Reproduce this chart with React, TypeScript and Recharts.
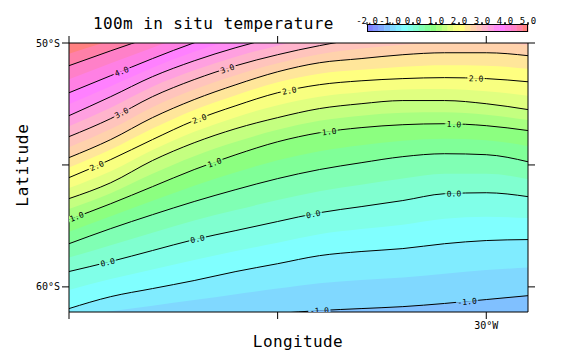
import React from 'react';
import { ComposedChart, Area, Line, Scatter, XAxis, YAxis, Customized } from 'recharts';

// ---------- data ----------
const longitudes = [-50, -48, -46, -44, -42, -40, -38, -36, -34, -32, -30, -28];

// latitude (deg, negative = south) of each isotherm at the longitudes above
const lat_m125 = [-62.8, -62.6, -62.4, -62.2, -62.0, -61.9, -61.8, -61.7, -61.6, -61.5, -61.4, -61.3];
const lat_m100 = [-61.71, -61.59, -61.46, -61.34, -61.22, -61.09, -60.97, -60.89, -60.81, -60.68, -60.52, -60.36];
const lat_m075 = [-61.30, -61.00, -60.77, -60.54, -60.30, -60.07, -59.85, -59.72, -59.62, -59.46, -59.31, -59.21];
const lat_m050 = [-60.89, -60.40, -60.07, -59.74, -59.37, -59.05, -58.72, -58.55, -58.43, -58.23, -58.10, -58.06];
const lat_m025 = [-60.13, -59.68, -59.29, -58.90, -58.53, -58.19, -57.84, -57.63, -57.45, -57.21, -57.12, -57.18];
const lat_000 = [-59.37, -58.96, -58.51, -58.06, -57.69, -57.32, -56.96, -56.71, -56.46, -56.18, -56.14, -56.30];
const lat_025 = [-58.80, -58.29, -57.78, -57.28, -56.85, -56.44, -56.08, -55.81, -55.56, -55.36, -55.36, -55.59];
const lat_050 = [-58.23, -57.61, -57.04, -56.50, -56.01, -55.56, -55.19, -54.91, -54.66, -54.54, -54.58, -54.87];
const lat_075 = [-57.74, -57.10, -56.47, -55.85, -55.30, -54.81, -54.44, -54.19, -54.01, -53.93, -53.99, -54.23];
const lat_100 = [-57.24, -56.59, -55.89, -55.19, -54.58, -54.05, -53.68, -53.47, -53.35, -53.31, -53.39, -53.59];
const lat_125 = [-56.81, -56.16, -55.36, -54.64, -54.05, -53.56, -53.19, -52.98, -52.86, -52.84, -52.94, -53.16];
const lat_150 = [-56.38, -55.73, -54.82, -54.09, -53.51, -53.06, -52.69, -52.49, -52.36, -52.36, -52.49, -52.73];
const lat_175 = [-55.95, -55.26, -54.39, -53.64, -53.04, -52.55, -52.20, -52.02, -51.91, -51.89, -51.98, -52.16];
const lat_200 = [-55.52, -54.78, -53.96, -53.18, -52.57, -52.04, -51.71, -51.55, -51.46, -51.42, -51.46, -51.59];
const lat_225 = [-55.11, -54.37, -53.51, -52.75, -52.14, -51.61, -51.26, -51.10, -50.97, -50.91, -50.93, -51.06];
const lat_250 = [-54.70, -53.96, -53.06, -52.32, -51.71, -51.18, -50.81, -50.64, -50.48, -50.40, -50.40, -50.52];
const lat_275 = [-54.27, -53.53, -52.63, -51.91, -51.32, -50.83, -50.46, -50.23, -50.07, -49.99, -49.99, -50.09];
const lat_300 = [-53.84, -53.10, -52.20, -51.50, -50.93, -50.48, -50.11, -49.82, -49.66, -49.58, -49.58, -49.66];
const lat_325 = [-53.41, -52.65, -51.79, -51.12, -50.56, -50.11, -49.74, -49.48, -49.31, -49.23, -49.23, -49.31];
const lat_350 = [-52.98, -52.20, -51.38, -50.73, -50.19, -49.74, -49.37, -49.13, -48.96, -48.88, -48.88, -48.96];
const lat_375 = [-52.51, -51.77, -51.01, -50.36, -49.82, -49.37, -49.01, -48.76, -48.60, -48.51, -48.51, -48.60];
const lat_400 = [-52.04, -51.34, -50.64, -49.99, -49.45, -49.00, -48.64, -48.39, -48.23, -48.14, -48.14, -48.23];
const lat_425 = [-51.49, -50.83, -50.19, -49.60, -49.09, -48.66, -48.31, -48.06, -47.90, -47.82, -47.82, -47.90];
const lat_450 = [-50.93, -50.32, -49.74, -49.21, -48.72, -48.31, -47.98, -47.73, -47.57, -47.49, -47.49, -47.57];
const lat_475 = [-50.44, -49.90, -49.40, -48.90, -48.40, -48.00, -47.70, -47.40, -47.20, -47.10, -47.10, -47.20];

const fillLevels: { level: number; lats: number[] }[] = [
  { level: -1.25, lats: lat_m125 },
  { level: -1.0, lats: lat_m100 },
  { level: -0.75, lats: lat_m075 },
  { level: -0.5, lats: lat_m050 },
  { level: -0.25, lats: lat_m025 },
  { level: 0.0, lats: lat_000 },
  { level: 0.25, lats: lat_025 },
  { level: 0.5, lats: lat_050 },
  { level: 0.75, lats: lat_075 },
  { level: 1.0, lats: lat_100 },
  { level: 1.25, lats: lat_125 },
  { level: 1.5, lats: lat_150 },
  { level: 1.75, lats: lat_175 },
  { level: 2.0, lats: lat_200 },
  { level: 2.25, lats: lat_225 },
  { level: 2.5, lats: lat_250 },
  { level: 2.75, lats: lat_275 },
  { level: 3.0, lats: lat_300 },
  { level: 3.25, lats: lat_325 },
  { level: 3.5, lats: lat_350 },
  { level: 3.75, lats: lat_375 },
  { level: 4.0, lats: lat_400 },
  { level: 4.25, lats: lat_425 },
  { level: 4.5, lats: lat_450 },
  { level: 4.75, lats: lat_475 },
];

const contourLevels = [-1.0, -0.5, 0.0, 0.5, 1.0, 1.5, 2.0, 2.5, 3.0, 3.5, 4.0, 4.5];

// colour of each 0.25 band from -2.0 to 5.0
const bandColors = [
  '#8080ff', '#8094ff', '#80a8ff', '#80c0ff',
  '#80d8ff', '#80ecff', '#80ffff', '#80ffe8',
  '#80ffd0', '#80ffb4', '#80ff98', '#8cff80',
  '#a8ff80', '#c4ff80', '#e0ff80', '#f8ff80',
  '#ffff80', '#ffe69a', '#ffd2ac', '#ffc4bc',
  '#ffb4cc', '#ffa0e0', '#ff8cf4', '#ff80ff',
  '#ff80e4', '#ff80c8', '#ff80a8', '#ff8080',
];
const colorMin = -2.0;
const colorStep = 0.25;
const colorbarLabels = ['-2.0', '-1.0', '0.0', '1.0', '2.0', '3.0', '4.0', '5.0'];

const latTicks = [-60, -55, -50];
const latTickLabels: Record<string, string> = { '-60': '60°S', '-50': '50°S' };
const lonTicks = [-50, -40, -30];
const lonTickLabels: Record<string, string> = { '-30': '30°W' };

const contourLabels = [
  { level: 4.0, lon: -47.48, lat: -51.16, text: '4.0' },
  { level: 3.0, lon: -42.41, lat: -51.05, text: '3.0' },
  { level: 3.0, lon: -47.48, lat: -52.86, text: '3.0' },
  { level: 2.0, lon: -48.67, lat: -55.03, text: '2.0' },
  { level: 2.0, lon: -43.75, lat: -53.11, text: '2.0' },
  { level: 2.0, lon: -39.44, lat: -51.95, text: '2.0' },
  { level: 2.0, lon: -30.49, lat: -51.45, text: '2.0' },
  { level: 1.0, lon: -49.63, lat: -57.12, text: '1.0' },
  { level: 1.0, lon: -43.03, lat: -54.9, text: '1.0' },
  { level: 1.0, lon: -37.53, lat: -53.63, text: '1.0' },
  { level: 1.0, lon: -31.55, lat: -53.33, text: '1.0' },
  { level: 0.0, lon: -48.15, lat: -58.99, text: '0.0' },
  { level: 0.0, lon: -43.84, lat: -58.03, text: '0.0' },
  { level: 0.0, lon: -38.29, lat: -57.01, text: '0.0' },
  { level: 0.0, lon: -31.55, lat: -56.17, text: '0.0' },
  { level: -1.0, lon: -38.0, lat: -60.97, text: '-1.0' },
  { level: -1.0, lon: -30.92, lat: -60.6, text: '-1.0' },
];

// ---------- layout ----------
const W = 561;
const H = 360;
const PLOT = { left: 69, top: 43, right: 528, bottom: 312 };
const LON_DOMAIN: [number, number] = [-50, -28];
const LAT_DOMAIN: [number, number] = [-61.03, -50];
const Y_AXIS_W = 60;
const RIGHT_AXIS_W = 10;
const X_AXIS_H = 30;
const TOP_AXIS_H = 10;
const MONO = "'DejaVu Sans Mono', monospace";

const keyOf = (level: number) => 'L' + Math.round(level * 100);
const colorIndex = (level: number) => Math.round((level - colorMin) / colorStep);

const rows = longitudes.map((lon, i) => {
  const r: Record<string, number> = { lon };
  fillLevels.forEach((f) => {
    r[keyOf(f.level)] = f.lats[i];
  });
  return r;
});

const pxPerLon = (PLOT.right - PLOT.left) / (LON_DOMAIN[1] - LON_DOMAIN[0]);
const pxPerLat = (PLOT.bottom - PLOT.top) / (LAT_DOMAIN[1] - LAT_DOMAIN[0]);

const ContourLabel = (props: any) => {
  const { cx, cy, payload } = props;
  if (cx == null || cy == null) return null;
  const { level, lon, text } = payload;
  const lats = fillLevels.find((f) => f.level === level)!.lats;
  let i = 0;
  while (i < longitudes.length - 2 && longitudes[i + 1] <= lon) i++;
  const dlon = longitudes[i + 1] - longitudes[i];
  const dlat = lats[i + 1] - lats[i];
  const ang = (Math.atan2(-dlat * pxPerLat, dlon * pxPerLon) * 180) / Math.PI;
  const above = bandColors[colorIndex(level)];
  const below = bandColors[colorIndex(level) - 1];
  const w = text.length * 4.8 + 3;
  return (
    <g transform={`translate(${cx},${cy}) rotate(${ang})`}>
      <rect x={-w / 2} y={-3} width={w} height={3} fill={above} />
      <rect x={-w / 2} y={0} width={w} height={3} fill={below} />
      <text x={0} y={3} textAnchor="middle" fontFamily={MONO} fontSize={8} fill="#000">
        {text}
      </text>
    </g>
  );
};

const CB = { x: 367, y: 24, w: 161, h: 8 };

const Overlay = () => {
  const cellW = CB.w / bandColors.length;
  return (
    <g>
      <text x={93} y={29} fontFamily={MONO} fontSize={16} letterSpacing={0.4} fill="#000">
        100m in situ temperature
      </text>
      <text x={298} y={347} textAnchor="middle" fontFamily={MONO} fontSize={16} letterSpacing={0.4} fill="#000">
        Longitude
      </text>
      <text
        transform="translate(28,165) rotate(-90)"
        textAnchor="middle"
        fontFamily={MONO}
        fontSize={16}
        letterSpacing={0.8}
        fill="#000"
      >
        Latitude
      </text>
      {bandColors.map((c, i) => (
        <rect key={i} x={CB.x + i * cellW} y={CB.y} width={cellW + 0.4} height={CB.h} fill={c} />
      ))}
      <rect x={CB.x + 0.5} y={CB.y + 0.5} width={CB.w - 1} height={CB.h - 1} fill="none" stroke="#000" strokeWidth={1} />
      {colorbarLabels.map((t, i) => (
        <g key={t}>
          <line x1={CB.x + i * 4 * cellW} x2={CB.x + i * 4 * cellW} y1={CB.y - 2} y2={CB.y + 1} stroke="#000" />
          <text x={CB.x + i * 4 * cellW} y={CB.y - 0.5} textAnchor="middle" fontFamily={MONO} fontSize={9} fill="#000">
            {t}
          </text>
        </g>
      ))}
    </g>
  );
};

const tickStyle = { fill: '#000', fontSize: 10, fontFamily: MONO };
const blank = () => '';

export default function App() {
  return (
    <div style={{ position: 'absolute', left: 0, top: 0, width: W, height: H, background: '#fff' }}>
      <ComposedChart
        width={W}
        height={H}
        data={rows}
        margin={{
          top: PLOT.top - TOP_AXIS_H,
          left: PLOT.left - Y_AXIS_W,
          right: W - PLOT.right - RIGHT_AXIS_W,
          bottom: H - PLOT.bottom - X_AXIS_H,
        }}
      >
        {fillLevels.map((f) => (
          <Area
            key={'a' + keyOf(f.level)}
            dataKey={keyOf(f.level)}
            type="monotone"
            baseValue="dataMax"
            fill={bandColors[colorIndex(f.level)]}
            fillOpacity={1}
            stroke="none"
            isAnimationActive={false}
          />
        ))}
        {contourLevels.map((lv) => (
          <Line
            key={'l' + keyOf(lv)}
            dataKey={keyOf(lv)}
            type="monotone"
            stroke="#000"
            strokeWidth={1}
            dot={false}
            activeDot={false}
            isAnimationActive={false}
          />
        ))}
        {/* invisible series binding the mirrored top and right axes */}
        <Line
          xAxisId="top"
          yAxisId="right"
          dataKey={keyOf(0)}
          stroke="none"
          strokeWidth={0}
          dot={false}
          activeDot={false}
          isAnimationActive={false}
        />
        <Scatter data={contourLabels} dataKey="lat" shape={ContourLabel} isAnimationActive={false} />
        <XAxis
          xAxisId={0}
          dataKey="lon"
          type="number"
          domain={LON_DOMAIN}
          ticks={lonTicks}
          interval={0}
          allowDataOverflow
          height={X_AXIS_H}
          stroke="#000"
          tickSize={7}
          tickMargin={3}
          tick={tickStyle}
          tickFormatter={(v: number) => lonTickLabels[String(v)] || ''}
        />
        <XAxis
          xAxisId="top"
          orientation="top"
          dataKey="lon"
          type="number"
          domain={LON_DOMAIN}
          ticks={lonTicks}
          interval={0}
          allowDataOverflow
          height={TOP_AXIS_H}
          stroke="#000"
          tickSize={7}
          tick={tickStyle}
          tickFormatter={blank}
        />
        <YAxis
          yAxisId={0}
          type="number"
          domain={LAT_DOMAIN}
          ticks={latTicks}
          interval={0}
          allowDataOverflow
          width={Y_AXIS_W}
          stroke="#000"
          tickSize={7}
          tickMargin={2}
          tick={tickStyle}
          tickFormatter={(v: number) => latTickLabels[String(v)] || ''}
        />
        <YAxis
          yAxisId="right"
          orientation="right"
          type="number"
          domain={LAT_DOMAIN}
          ticks={latTicks}
          interval={0}
          allowDataOverflow
          width={RIGHT_AXIS_W}
          stroke="#000"
          tickSize={7}
          tick={tickStyle}
          tickFormatter={blank}
        />
        <Customized component={Overlay} />
      </ComposedChart>
    </div>
  );
}
